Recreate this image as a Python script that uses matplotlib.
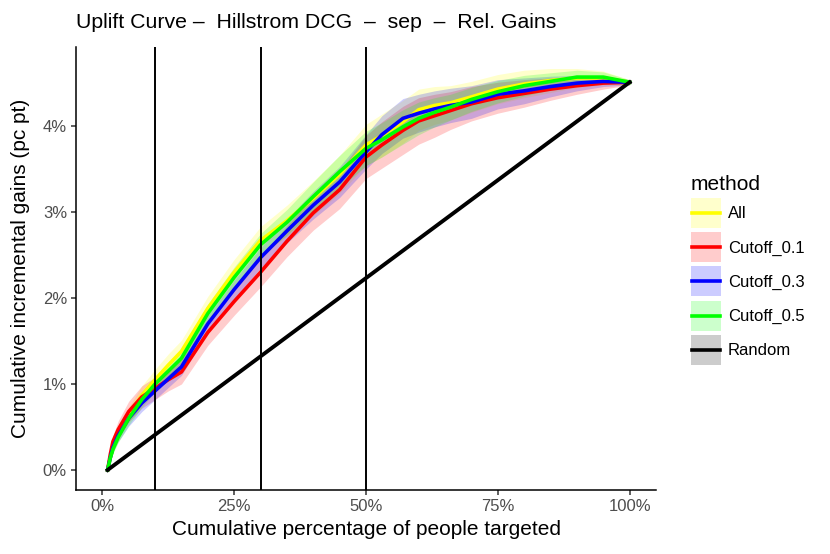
import matplotlib
matplotlib.use('Agg')
import matplotlib.pyplot as plt
from matplotlib.patches import Rectangle
from matplotlib.lines import Line2D
from matplotlib.legend_handler import HandlerBase
import numpy as np

plt.rcParams['font.family'] = ['Liberation Sans', 'DejaVu Sans']

# x positions (percent of people targeted) where the curves were read
pct = [1, 1.5, 2, 3, 5, 7.5, 10, 12.5, 15, 20, 25, 30, 35, 40, 45, 50,
       53, 57, 60, 63, 66, 70, 75, 80, 85, 90, 95, 100]

# cumulative incremental gains (pc pt) per method
gain_all = [0, 0.14, 0.25, 0.40, 0.64, 0.87, 1.05, 1.22, 1.38, 1.88, 2.30, 2.67, 2.90, 3.16, 3.44, 3.78,
            3.89, 4.05, 4.19, 4.24, 4.27, 4.34, 4.43, 4.49, 4.53, 4.56, 4.56, 4.51]
gain_c01 = [0, 0.18, 0.33, 0.47, 0.68, 0.85, 0.95, 1.05, 1.14, 1.60, 1.96, 2.30, 2.66, 2.99, 3.26, 3.64,
            3.78, 3.95, 4.06, 4.12, 4.18, 4.26, 4.33, 4.38, 4.43, 4.47, 4.50, 4.51]
gain_c03 = [0, 0.14, 0.26, 0.40, 0.60, 0.78, 0.92, 1.06, 1.20, 1.70, 2.10, 2.47, 2.78, 3.08, 3.35, 3.70,
            3.90, 4.09, 4.15, 4.20, 4.24, 4.28, 4.37, 4.41, 4.46, 4.50, 4.52, 4.51]
gain_c05 = [0, 0.14, 0.24, 0.38, 0.60, 0.82, 1.00, 1.15, 1.30, 1.82, 2.24, 2.62, 2.88, 3.18, 3.47, 3.74,
            3.84, 3.99, 4.09, 4.16, 4.22, 4.31, 4.40, 4.47, 4.52, 4.57, 4.57, 4.51]

# half width of the shaded band per method
band_all = [0, .03, .05, .07, .09, .11, .12, .13, .13, .14, .15, .16, .18, .20, .22, .24,
            .25, .25, .24, .22, .20, .18, .17, .16, .14, .11, .08, .03]
band_c01 = [0, .03, .07, .10, .12, .13, .13, .13, .14, .15, .16, .17, .18, .20, .22, .25,
            .27, .28, .27, .25, .22, .20, .18, .16, .13, .10, .07, .03]
band_c03 = [0, .03, .05, .07, .09, .10, .10, .10, .10, .10, .11, .12, .14, .16, .18, .20,
            .22, .23, .22, .21, .20, .19, .17, .15, .12, .09, .06, .03]
band_c05 = [0, .03, .05, .06, .08, .09, .09, .09, .10, .11, .12, .13, .15, .17, .19, .20,
            .20, .20, .19, .17, .15, .14, .13, .12, .10, .08, .06, .03]

random_x = [1, 100]
random_y = [0, 4.51]

cutoffs = [10, 30, 50]

methods = ['All', 'Cutoff_0.1', 'Cutoff_0.3', 'Cutoff_0.5', 'Random']
colors = ['#FFFF00', '#FF0000', '#0000FF', '#00FF00', '#000000']
gains = [gain_all, gain_c01, gain_c03, gain_c05]
bands = [band_all, band_c01, band_c03, band_c05]


# legend key like ggplot: pale filled square with the line through the middle
class KeyHandler(HandlerBase):
    def create_artists(self, legend, orig_handle, xdescent, ydescent, width, height, fontsize, trans):
        c = orig_handle.get_color()
        box = Rectangle((-xdescent, -ydescent), width, height, facecolor=c, alpha=0.2,
                        edgecolor='none', transform=trans)
        ymid = -ydescent + height / 2
        line = Line2D([-xdescent + 1, -xdescent + width - 1], [ymid, ymid], color=c,
                      linewidth=2.6, transform=trans)
        return [box, line]


fig = plt.figure(figsize=(8.3, 5.54), dpi=100)
ax = fig.add_axes([76/830, 64/554, 580/830, 443/554])

# shaded bands first, then the lines on top
for g, b, c in zip(gains, bands, colors):
    g = np.array(g)
    b = np.array(b)
    ax.fill_between(pct, g - b, g + b, color=c, alpha=0.2, linewidth=0)
for g, c in zip(gains, colors):
    ax.plot(pct, g, color=c, linewidth=2.6)
ax.plot(random_x, random_y, color='k', linewidth=2.8)

for cut in cutoffs:
    ax.axvline(cut, color='k', linewidth=1.4)

ax.set_xlim(-5, 105)
ax.set_ylim(-0.233, 4.92)
ax.set_xticks([0, 25, 50, 75, 100])
ax.set_xticklabels(['0%', '25%', '50%', '75%', '100%'])
ax.set_yticks([0, 1, 2, 3, 4])
ax.set_yticklabels(['0%', '1%', '2%', '3%', '4%'])
ax.tick_params(length=3.5, width=1.1, color='#333333', labelcolor='#4D4D4D', labelsize=12, pad=3)

for s in ['top', 'right']:
    ax.spines[s].set_visible(False)
for s in ['left', 'bottom']:
    ax.spines[s].set_linewidth(1.1)

ax.set_xlabel('Cumulative percentage of people targeted', fontsize=15, labelpad=4)
ax.set_ylabel('Cumulative incremental gains (pc pt)', fontsize=15, labelpad=9)
ax.set_title('Uplift Curve \u2013  Hillstrom DCG  \u2013  sep  \u2013  Rel. Gains',
             fontsize=15.3, loc='left', pad=14)

handles = [Line2D([], [], color=c) for c in colors]
leg = fig.legend(handles, methods, loc='upper left', bbox_to_anchor=(691/830, 1 - 175/554),
                 frameon=False, fontsize=12, title='method', title_fontsize=15,
                 handlelength=1.8, handleheight=2.39, labelspacing=0.25, handletextpad=0.4,
                 alignment='left', borderaxespad=0, borderpad=0,
                 handler_map={Line2D: KeyHandler()})

fig.savefig('out.png', dpi=100, facecolor='white')
